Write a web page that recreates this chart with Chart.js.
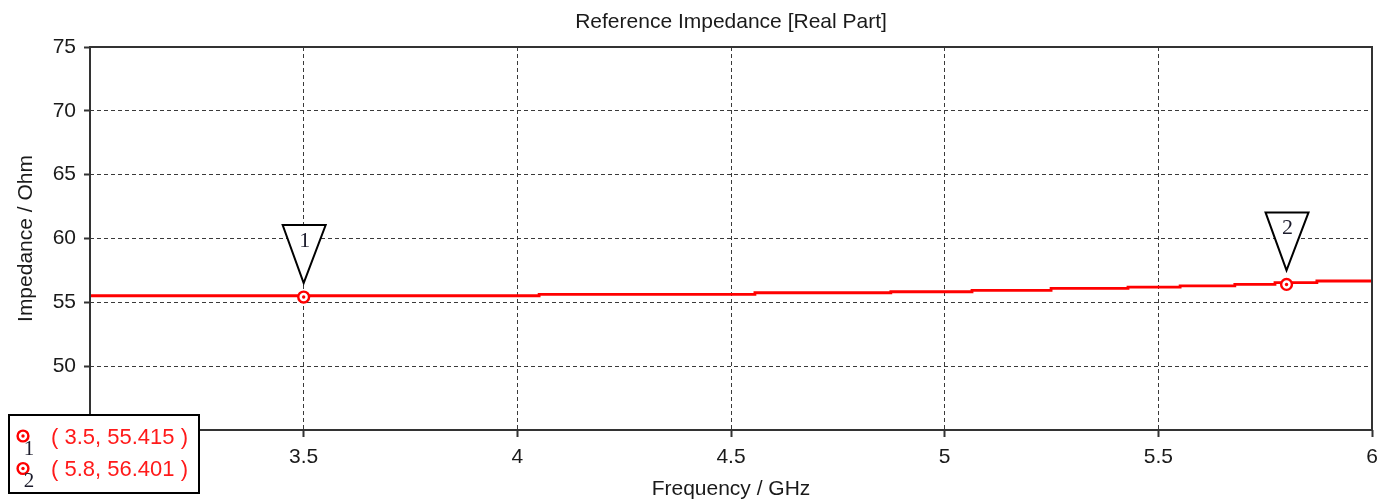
<!DOCTYPE html>
<html>
<head>
<meta charset="utf-8">
<script src="https://cdn.jsdelivr.net/npm/chart.js@4.4.1/dist/chart.umd.min.js"></script>
<style>
  html, body { margin: 0; padding: 0; background: #ffffff; }
  #wrap { position: relative; width: 1391px; height: 502px; }
</style>
</head>
<body>
<div id="wrap"><canvas id="c" width="1391" height="502"></canvas></div>
<script>
// ---- data ----
const chartTitle = 'Reference Impedance [Real Part]';
const xAxisTitle = 'Frequency / GHz';
const yAxisTitle = 'Impedance / Ohm';
const freqGHz = [3.0, 4.051, 4.556, 4.874, 5.064, 5.249, 5.429, 5.551, 5.679, 5.773, 5.871, 5.953, 6.0];
const realOhm = [55.415, 55.517, 55.626, 55.752, 55.83, 55.94, 56.096, 56.198, 56.29, 56.401, 56.55, 56.67, 56.67];
const markerIds = ['1', '2'];
const markerX = [3.5, 5.8];
const markerY = [55.415, 56.401];
const xTicks = [3, 3.5, 4, 4.5, 5, 5.5, 6];
const xTickLabels = ['3', '3.5', '4', '4.5', '5', '5.5', '6'];
const yTicks = [45, 50, 55, 60, 65, 70, 75];

const FONT = '"Liberation Sans", Arial, sans-serif';
const GRID = '#3a3a3a';

const points = freqGHz.map((f, i) => ({ x: f, y: realOhm[i] }));

function drawMarkerRing(ctx, x, y) {
  ctx.save();
  ctx.beginPath();
  ctx.arc(x, y, 5.4, 0, Math.PI * 2);
  ctx.fillStyle = '#ffffff';
  ctx.fill();
  ctx.lineWidth = 2.4;
  ctx.strokeStyle = '#ff0000';
  ctx.stroke();
  ctx.beginPath();
  ctx.arc(x, y, 1.7, 0, Math.PI * 2);
  ctx.fillStyle = '#ff0000';
  ctx.fill();
  ctx.restore();
}

const overlay = {
  id: 'overlay',
  afterDatasetsDraw(chart) {
    const { ctx, chartArea: a, scales: { x, y } } = chart;
    // chart title centred over the plot area
    ctx.save();
    ctx.fillStyle = '#1a1a1a';
    ctx.font = '21px ' + FONT;
    ctx.textAlign = 'center';
    ctx.textBaseline = 'middle';
    ctx.fillText(chartTitle, (a.left + a.right) / 2, 22);
    ctx.restore();
    // plot frame
    ctx.save();
    ctx.strokeStyle = '#333333';
    ctx.lineWidth = 2;
    ctx.strokeRect(a.left, a.top, a.right - a.left, a.bottom - a.top);
    ctx.restore();
    // markers
    markerX.forEach((mx, i) => {
      const px = x.getPixelForValue(mx);
      const py = y.getPixelForValue(markerY[i]);
      drawMarkerRing(ctx, px, py);
      ctx.save();
      ctx.beginPath();
      ctx.moveTo(px - 21, py - 72);
      ctx.lineTo(px + 22, py - 72);
      ctx.lineTo(px, py - 14);
      ctx.closePath();
      ctx.fillStyle = '#ffffff';
      ctx.fill();
      ctx.lineWidth = 2;
      ctx.lineJoin = 'miter';
      ctx.strokeStyle = '#000000';
      ctx.stroke();
      ctx.fillStyle = '#1c1c2c';
      ctx.font = '22px "Liberation Serif", "Times New Roman", serif';
      ctx.textAlign = 'center';
      ctx.textBaseline = 'middle';
      ctx.fillText(markerIds[i], px + 1, py - 56);
      ctx.restore();
    });
  },
  afterDraw(chart) {
    const { ctx } = chart;
    // marker legend box
    ctx.save();
    ctx.fillStyle = '#ffffff';
    ctx.fillRect(8, 414, 192, 80);
    ctx.lineWidth = 2;
    ctx.strokeStyle = '#000000';
    ctx.strokeRect(9, 415, 190, 78);
    markerX.forEach((mx, i) => {
      const cy = 436 + i * 32.5;
      drawMarkerRing(ctx, 23, cy);
      ctx.fillStyle = '#1c1c2c';
      ctx.font = '21px "Liberation Serif", "Times New Roman", serif';
      ctx.textAlign = 'center';
      ctx.textBaseline = 'middle';
      ctx.fillText(markerIds[i], 29, cy + 13);
      ctx.fillStyle = '#ff1a1a';
      ctx.font = '22px ' + FONT;
      ctx.textAlign = 'left';
      ctx.fillText('( ' + mx + ', ' + markerY[i].toFixed(3) + ' )', 51, cy + 1.5);
    });
    ctx.restore();
  }
};

new Chart(document.getElementById('c'), {
  type: 'line',
  data: {
    datasets: [{
      data: points,
      borderColor: '#ff0000',
      borderWidth: 2.8,
      pointRadius: 0,
      stepped: 'after',
      fill: false,
      tension: 0
    }]
  },
  options: {
    responsive: false,
    animation: false,
    events: [],
    layout: { padding: { left: 0, right: 19, top: 47, bottom: 0 } },
    plugins: {
      legend: { display: false },
      tooltip: { enabled: false },
      title: { display: false }
    },
    scales: {
      x: {
        type: 'linear',
        min: 3, max: 6,
        afterBuildTicks: (s) => { s.ticks = xTicks.map(v => ({ value: v })); },
        afterFit: (s) => { s.height = 72; },
        ticks: {
          color: '#1a1a1a',
          font: { family: FONT, size: 21 },
          padding: 8,
          maxRotation: 0,
          autoSkip: false,
          callback: (v) => { const i = xTicks.indexOf(v); return i >= 0 ? xTickLabels[i] : ''; }
        },
        grid: {
          color: GRID, lineWidth: 1, tickLength: 7, drawTicks: true,
          tickColor: '#333333', tickWidth: 2, tickBorderDash: []
        },
        border: { display: false, dash: [4, 3] },
        title: {
          display: true, text: xAxisTitle, color: '#1a1a1a',
          font: { family: FONT, size: 21, lineHeight: 1.2 },
          padding: { top: 0, bottom: 0 }
        }
      },
      y: {
        type: 'linear',
        min: 45, max: 75,
        afterBuildTicks: (s) => { s.ticks = yTicks.map(v => ({ value: v })); },
        afterFit: (s) => { s.width = 90; },
        ticks: {
          color: '#1a1a1a',
          font: { family: FONT, size: 21 },
          padding: 8,
          callback: (v) => String(v)
        },
        grid: {
          color: GRID, lineWidth: 1, tickLength: 6, drawTicks: true,
          tickColor: '#333333', tickWidth: 2, tickBorderDash: []
        },
        border: { display: false, dash: [4, 3] },
        title: {
          display: true, text: yAxisTitle, color: '#1a1a1a',
          font: { family: FONT, size: 21, lineHeight: 1.2 },
          padding: { top: 14, bottom: 0 }
        }
      }
    }
  },
  plugins: [overlay]
});
</script>
</body>
</html>
